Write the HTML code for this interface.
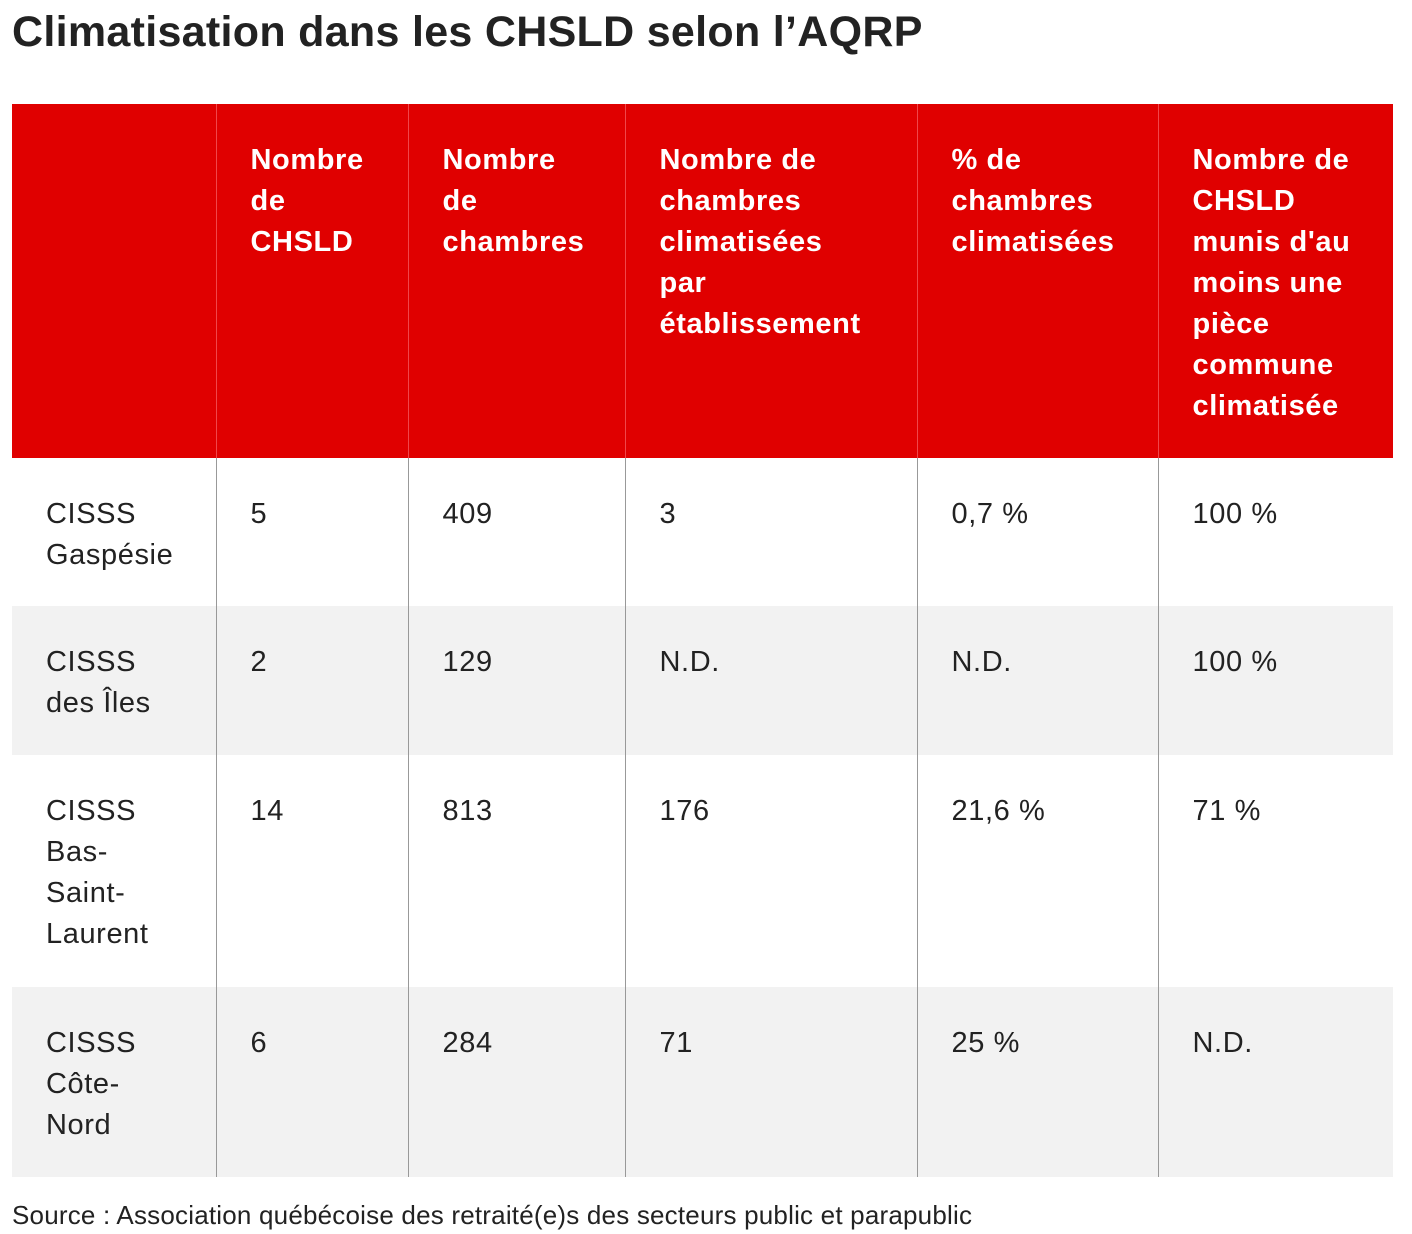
<!DOCTYPE html>
<html><head><meta charset="utf-8">
<style>
html,body{margin:0;padding:0;background:#fff;width:1412px;height:1234px;overflow:hidden;font-family:"Liberation Sans",sans-serif;color:#222;}
h1{position:absolute;left:12px;top:8px;margin:0;font-size:43px;font-weight:bold;color:#222;letter-spacing:0.3px;white-space:nowrap;}
table{position:absolute;left:12px;top:104px;border-collapse:collapse;table-layout:fixed;width:1381px;}
td,th{vertical-align:top;text-align:left;font-size:29px;line-height:41px;padding:0 0 0 34px;white-space:nowrap;letter-spacing:0.6px;}
th{background:#e00000;color:#fff;font-weight:bold;height:354px;padding-top:36px;box-sizing:border-box;border-left:1px solid #f0464a;}
th:first-child{border-left:none}
td{border-left:1px solid #999;padding-top:36px;box-sizing:border-box;}
td:first-child{border-left:none}
tr.alt td{background:#f2f2f2;}
.src{position:absolute;left:12px;top:1200px;font-size:26px;color:#222;letter-spacing:0.2px;white-space:nowrap;}
</style></head><body>
<h1>Climatisation dans les CHSLD selon l’AQRP</h1>
<table>
<colgroup><col style="width:204px"><col style="width:192px"><col style="width:217px"><col style="width:292px"><col style="width:241px"><col style="width:235px"></colgroup>
<tr>
<th></th>
<th>Nombre<br>de<br>CHSLD</th>
<th>Nombre<br>de<br>chambres</th>
<th>Nombre de<br>chambres<br>climatisées<br>par<br>établissement</th>
<th>% de<br>chambres<br>climatisées</th>
<th>Nombre de<br>CHSLD<br>munis d'au<br>moins une<br>pièce<br>commune<br>climatisée</th>
</tr>
<tr style="height:148px"><td>CISSS<br>Gaspésie</td><td>5</td><td>409</td><td>3</td><td>0,7 %</td><td>100 %</td></tr>
<tr class="alt" style="height:149px"><td>CISSS<br>des Îles</td><td>2</td><td>129</td><td>N.D.</td><td>N.D.</td><td>100 %</td></tr>
<tr style="height:232px"><td>CISSS<br>Bas-<br>Saint-<br>Laurent</td><td>14</td><td>813</td><td>176</td><td>21,6 %</td><td>71 %</td></tr>
<tr class="alt" style="height:190px"><td>CISSS<br>Côte-<br>Nord</td><td>6</td><td>284</td><td>71</td><td>25 %</td><td>N.D.</td></tr>
</table>
<div class="src">Source : Association québécoise des retraité(e)s des secteurs public et parapublic</div>
</body></html>
